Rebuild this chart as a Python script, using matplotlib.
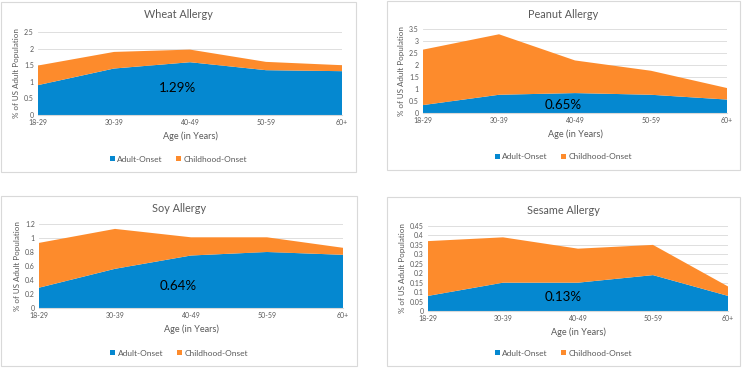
import matplotlib

matplotlib.use("Agg")
import matplotlib.pyplot as plt
from matplotlib.patches import Rectangle

plt.rcParams["font.family"] = ["Lato", "DejaVu Sans"]

W, H = 743, 368
BLUE = "#0588D0"
ORANGE = "#FD8B2C"
GRID = "#D9D9D9"
TEXT = "#595959"

ages = ["18-29", "30-39", "40-49", "50-59", "60+"]

wheat_adult = [0.90, 1.40, 1.59, 1.35, 1.32]
wheat_child = [0.59, 0.50, 0.38, 0.25, 0.18]
peanut_adult = [0.33, 0.76, 0.83, 0.76, 0.56]
peanut_child = [2.31, 2.52, 1.36, 1.00, 0.48]
soy_adult = [0.29, 0.56, 0.75, 0.80, 0.76]
soy_child = [0.64, 0.57, 0.26, 0.21, 0.10]
sesame_adult = [0.08, 0.15, 0.15, 0.19, 0.08]
sesame_child = [0.29, 0.24, 0.18, 0.16, 0.05]

totals = ["1.29%", "0.65%", "0.64%", "0.13%"]


def fx(px):
    return px / W


def fy(py):
    return 1 - py / H


def panel(fig, box, plot, title, adult, child, ymax, ystep, label, label_xy, yfmt):
    # box/plot are (left, top, right, bottom) in pixels
    bl, bt, br, bb = box
    fig.patches.append(Rectangle((fx(bl), fy(bb)), fx(br - bl), (bb - bt) / H,
                                 transform=fig.transFigure, fill=False,
                                 ec="#D9D9D9", lw=0.8))
    pl, pt, pr, pb = plot
    ax = fig.add_axes([fx(pl), fy(pb), fx(pr - pl), (pb - pt) / H])
    x = list(range(len(ages)))
    ax.stackplot(x, adult, child, colors=[BLUE, ORANGE],
                 labels=["Adult-Onset", "Childhood-Onset"], lw=0)
    ax.set_xlim(0, len(ages) - 1)
    ax.set_ylim(0, ymax)
    n = int(round(ymax / ystep))
    ticks = [i * ystep for i in range(n + 1)]
    ax.set_yticks(ticks)
    ax.set_yticklabels([yfmt(t) for t in ticks])
    ax.set_xticks(x)
    ax.set_xticklabels(ages)
    ax.grid(axis="y", color=GRID, lw=0.6)
    ax.set_axisbelow(True)
    for s in ["top", "right", "left"]:
        ax.spines[s].set_visible(False)
    ax.spines["bottom"].set_color(GRID)
    ax.tick_params(length=0, labelsize=5.0, colors=TEXT, pad=3)
    ax.set_ylabel("% of US Adult Population", fontsize=5.8, color=TEXT, labelpad=3)
    ax.set_xlabel("Age (in Years)", fontsize=6.6, color=TEXT, labelpad=4)
    cx = (bl + br) / 2
    fig.text(fx(cx), fy(bt + 13), title, ha="center", va="center",
             fontsize=7.8, color=TEXT)
    fig.text(fx(label_xy[0]), fy(label_xy[1]), label, ha="center", va="center",
             fontsize=9.6, color="black")
    ax.legend(loc="center", bbox_to_anchor=(0.5, 0), bbox_transform=fig.transFigure,
              frameon=False, ncol=2, fontsize=6.0, handlelength=0.6,
              handleheight=0.6, handletextpad=0.3, columnspacing=1.6,
              labelcolor=TEXT)
    leg = ax.get_legend()
    leg.set_bbox_to_anchor((fx(cx), fy(box[3] - 13)), transform=fig.transFigure)
    return ax


fig = plt.figure(figsize=(W / 100, H / 100), dpi=100)

panel(fig, (1, 2, 356, 172), (38, 32, 342, 115), "Wheat Allergy",
      wheat_adult, wheat_child, 2.5, 0.5, totals[0], (178, 88),
      lambda t: f"{t:g}")
panel(fig, (387, 1, 740, 170), (423, 29, 727, 113), "Peanut Allergy",
      peanut_adult, peanut_child, 3.5, 0.5, totals[1], (563, 105),
      lambda t: f"{t:g}")
panel(fig, (1, 196, 357, 366), (39, 224, 343, 308), "Soy Allergy",
      soy_adult, soy_child, 1.2, 0.2, totals[2], (178, 286),
      lambda t: f"{round(t, 1):g}")
panel(fig, (387, 197, 740, 366), (428, 226, 728, 311), "Sesame Allergy",
      sesame_adult, sesame_child, 0.45, 0.05, totals[3], (563, 297),
      lambda t: f"{round(t, 2):g}")

fig.savefig("out.png", dpi=100)
